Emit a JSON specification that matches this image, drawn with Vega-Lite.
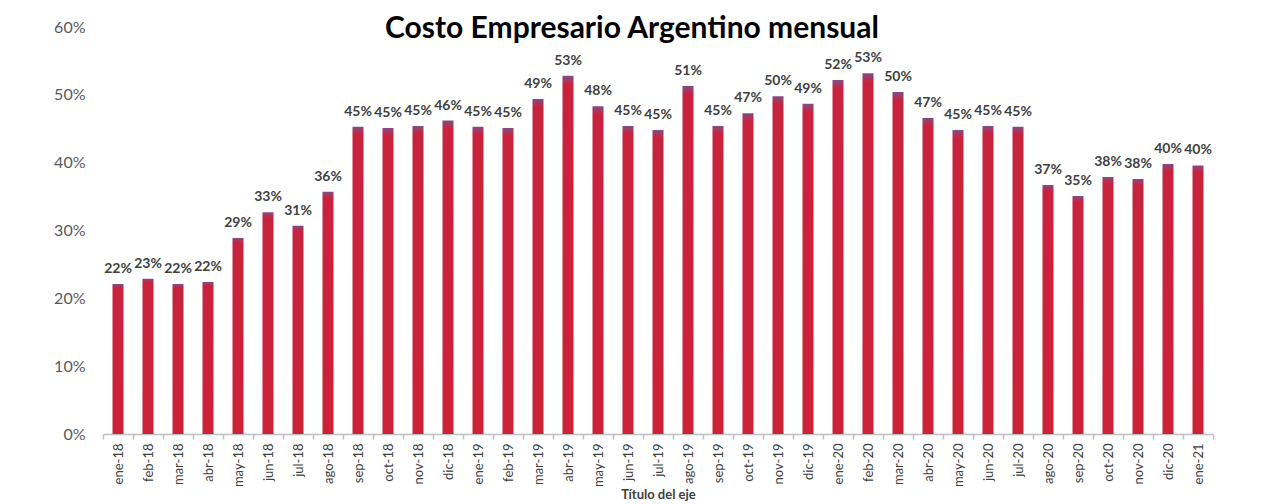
{
  "$schema": "https://vega.github.io/schema/vega-lite/v6.json",
  "autosize": {"type": "none"},
  "width": 1110,
  "height": 407,
  "padding": {"left": 103, "top": 27, "right": 51, "bottom": 70},
  "background": "white",
  "title": {
    "text": "Costo Empresario Argentino mensual",
    "font": "Lato",
    "fontSize": 30,
    "fontWeight": "bold",
    "color": "#000000",
    "anchor": "middle",
    "frame": "group",
    "offset": 0,
    "dx": -26,
    "dy": 25
  },
  "config": {"view": {"stroke": null}},
  "data": {
    "values": [
      {"mes": "ene-18", "v": 0.221},
      {"mes": "feb-18", "v": 0.229},
      {"mes": "mar-18", "v": 0.221},
      {"mes": "abr-18", "v": 0.224},
      {"mes": "may-18", "v": 0.289},
      {"mes": "jun-18", "v": 0.327},
      {"mes": "jul-18", "v": 0.307},
      {"mes": "ago-18", "v": 0.357},
      {"mes": "sep-18", "v": 0.453},
      {"mes": "oct-18", "v": 0.451},
      {"mes": "nov-18", "v": 0.454},
      {"mes": "dic-18", "v": 0.462},
      {"mes": "ene-19", "v": 0.453},
      {"mes": "feb-19", "v": 0.451},
      {"mes": "mar-19", "v": 0.494},
      {"mes": "abr-19", "v": 0.528},
      {"mes": "may-19", "v": 0.483},
      {"mes": "jun-19", "v": 0.454},
      {"mes": "jul-19", "v": 0.448},
      {"mes": "ago-19", "v": 0.513},
      {"mes": "sep-19", "v": 0.454},
      {"mes": "oct-19", "v": 0.473},
      {"mes": "nov-19", "v": 0.498},
      {"mes": "dic-19", "v": 0.487},
      {"mes": "ene-20", "v": 0.522},
      {"mes": "feb-20", "v": 0.532},
      {"mes": "mar-20", "v": 0.504},
      {"mes": "abr-20", "v": 0.466},
      {"mes": "may-20", "v": 0.448},
      {"mes": "jun-20", "v": 0.454},
      {"mes": "jul-20", "v": 0.453},
      {"mes": "ago-20", "v": 0.367},
      {"mes": "sep-20", "v": 0.351},
      {"mes": "oct-20", "v": 0.379},
      {"mes": "nov-20", "v": 0.376},
      {"mes": "dic-20", "v": 0.398},
      {"mes": "ene-21", "v": 0.396}
    ]
  },
  "encoding": {
    "x": {
      "field": "mes",
      "type": "ordinal",
      "sort": null,
      "scale": {"paddingInner": 0, "paddingOuter": 0},
      "axis": {
        "title": "Título del eje",
        "titleFont": "Lato",
        "titleFontSize": 13,
        "titleFontWeight": "bold",
        "titleColor": "#404040",
        "titlePadding": 2,
        "labelAngle": -90,
        "labelFont": "Lato",
        "labelFontSize": 13,
        "labelColor": "#404040",
        "labelPadding": 4,
        "domainColor": "#BFBFBF",
        "domainWidth": 1.5,
        "tickColor": "#BFBFBF",
        "tickSize": 5,
        "tickWidth": 1.5,
        "tickBand": "extent",
        "grid": false
      }
    },
    "y": {
      "field": "v",
      "type": "quantitative",
      "scale": {"domain": [0, 0.6]},
      "axis": {
        "title": null,
        "format": ".0%",
        "values": [0, 0.1, 0.2, 0.3, 0.4, 0.5, 0.6],
        "labelFont": "Lato",
        "labelFontSize": 16,
        "labelColor": "#595959",
        "labelPadding": 18,
        "domain": false,
        "ticks": false,
        "grid": false
      }
    }
  },
  "layer": [
    {
      "mark": {
        "type": "bar",
        "width": 11,
        "color": {
          "gradient": "linear",
          "x1": 0, "y1": 0, "x2": 0, "y2": 1,
          "stops": [
            {"offset": 0, "color": "#7E4E86"},
            {"offset": 0.025, "color": "#C8233E"},
            {"offset": 1, "color": "#CC2238"}
          ]
        }
      }
    },
    {
      "mark": {
        "type": "text",
        "font": "Lato",
        "fontSize": 14,
        "fontWeight": "bold",
        "color": "#404040",
        "baseline": "alphabetic",
        "dy": -11
      },
      "encoding": {
        "text": {"field": "v", "type": "quantitative", "format": ".0%"}
      }
    }
  ]
}
